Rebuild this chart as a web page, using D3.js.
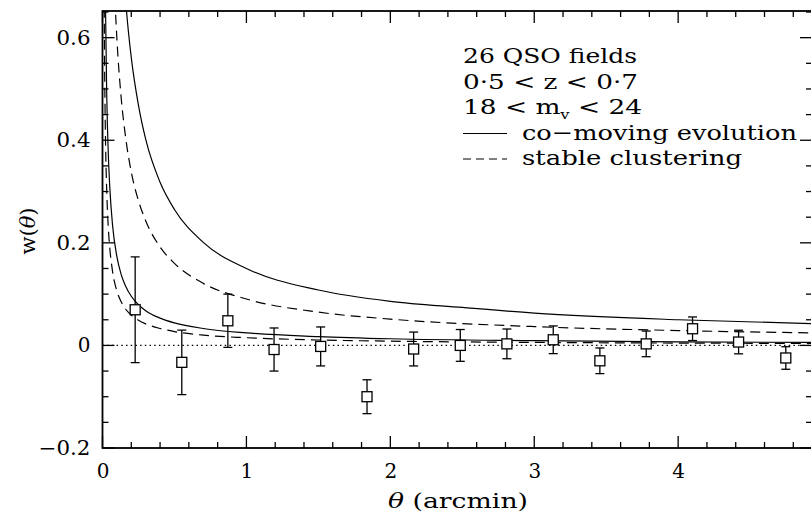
<!DOCTYPE html>
<html>
<head>
<meta charset="utf-8">
<script src="https://cdn.jsdelivr.net/npm/d3@7"></script>
<style>
  html, body { margin: 0; padding: 0; background: #fff; }
  svg { display: block; }
  text { font-family: "DejaVu Serif", "Liberation Serif", serif; fill: #000; }
</style>
</head>
<body>
<svg id="chart" width="811" height="517"></svg>
<script>
// Angular correlation measurements (binned in theta, arcmin)
const theta = [0.227, 0.551, 0.871, 1.192, 1.516, 1.838, 2.162, 2.486, 2.810, 3.132, 3.456, 3.778, 4.100, 4.420, 4.748];
const wTheta = [0.0695, -0.033, 0.048, -0.008, -0.002, -0.100, -0.007, 0.000, 0.003, 0.011, -0.030, 0.003, 0.0325, 0.0066, -0.0245];
const wErr = [0.103, 0.063, 0.052, 0.042, 0.038, 0.033, 0.033, 0.031, 0.029, 0.027, 0.025, 0.025, 0.023, 0.023, 0.022];

// Model predictions, [theta, w] pairs
const comovingHigh = [[0.12,0.854],[0.15,0.711],[0.18,0.612],[0.2,0.561],[0.25,0.468],[0.3,0.402],[0.4,0.318],[0.5,0.265],[0.7,0.201],[1.0,0.150],[1.5,0.108],[2,0.086],[2.5,0.074],[3,0.063],[4,0.050],[5,0.042]];
const stableHigh = [[0.07,0.801],[0.08,0.719],[0.09,0.653],[0.1,0.598],[0.13,0.482],[0.16,0.407],[0.2,0.338],[0.25,0.282],[0.3,0.243],[0.4,0.192],[0.5,0.160],[0.7,0.121],[1.0,0.0905],[1.5,0.0649],[2,0.0513],[3,0.0367],[4,0.029],[5,0.0242]];
const comovingLow = [[0.01,1.22],[0.015,0.866],[0.02,0.678],[0.03,0.481],[0.04,0.376],[0.05,0.312],[0.07,0.234],[0.1,0.173],[0.13,0.138],[0.16,0.116],[0.2,0.0959],[0.25,0.0793],[0.3,0.0678],[0.4,0.0532],[0.5,0.0439],[0.7,0.0330],[1.0,0.0244],[1.5,0.0173],[2,0.013],[3,0.0092],[4,0.0070],[5,0.0058]];
const stableLow = [[0.01,0.752],[0.015,0.533],[0.02,0.417],[0.03,0.296],[0.04,0.231],[0.05,0.192],[0.07,0.144],[0.1,0.106],[0.13,0.085],[0.16,0.071],[0.2,0.059],[0.25,0.049],[0.3,0.042],[0.4,0.033],[0.5,0.027],[0.7,0.020],[1.0,0.015],[1.5,0.0106],[2,0.0083],[3,0.0059],[4,0.0046],[5,0.0038]];

const xTicks = [0, 1, 2, 3, 4];
const yTicks = [-0.2, 0, 0.2, 0.4, 0.6];
const yTickLabels = ["\u22120.2", "0", "0.2", "0.4", "0.6"];

const legendLines = ["26 QSO fields", "0\u00b75 < z < 0\u00b77"];

const svg = d3.select("#chart");
const mLeft = 102.5, mRight = 812, mTop = 11, mBottom = 448;

const x = d3.scaleLinear().domain([0, 4.93]).range([mLeft, mRight]);
const y = d3.scaleLinear().domain([-0.2, 0.652]).range([mBottom, mTop]);

svg.append("defs").append("clipPath").attr("id", "plotclip")
  .append("rect").attr("x", mLeft).attr("y", mTop)
  .attr("width", mRight - mLeft).attr("height", mBottom - mTop);

const plot = svg.append("g").attr("clip-path", "url(#plotclip)");

// zero line
plot.append("line")
  .attr("x1", x(0)).attr("x2", x(4.93))
  .attr("y1", y(0)).attr("y2", y(0))
  .attr("stroke", "#000").attr("stroke-width", 1.2)
  .attr("stroke-dasharray", "1.5,3.2");

// model curves
const line = d3.line().x(d => x(d[0])).y(d => y(d[1])).curve(d3.curveMonotoneX);
const models = [
  { data: comovingHigh, dash: null },
  { data: comovingLow, dash: null },
  { data: stableHigh, dash: "10,6" },
  { data: stableLow, dash: "10,6" }
];
models.forEach(m => {
  plot.append("path").attr("d", line(m.data))
    .attr("fill", "none").attr("stroke", "#000").attr("stroke-width", 1.2)
    .attr("stroke-dasharray", m.dash);
});

// data points with error bars
const half = 5, cap = 4.5;
const pts = plot.append("g").attr("stroke", "#000").attr("stroke-width", 1.3).attr("fill", "none");
theta.forEach((t, i) => {
  const cx = x(t), cy = y(wTheta[i]);
  const yt = y(wTheta[i] + wErr[i]), yb = y(wTheta[i] - wErr[i]);
  if (yt < cy - half) pts.append("line").attr("x1", cx).attr("x2", cx).attr("y1", yt).attr("y2", cy - half);
  if (yb > cy + half) pts.append("line").attr("x1", cx).attr("x2", cx).attr("y1", cy + half).attr("y2", yb);
  pts.append("line").attr("x1", cx - cap).attr("x2", cx + cap).attr("y1", yt).attr("y2", yt);
  pts.append("line").attr("x1", cx - cap).attr("x2", cx + cap).attr("y1", yb).attr("y2", yb);
  pts.append("rect").attr("x", cx - half).attr("y", cy - half)
    .attr("width", 2 * half).attr("height", 2 * half).attr("fill", "#fff");
});

// frame and ticks (all four sides, inward)
const frame = svg.append("g").attr("stroke", "#000").attr("fill", "none");
frame.append("rect").attr("x", mLeft).attr("y", mTop)
  .attr("width", mRight - mLeft).attr("height", mBottom - mTop).attr("stroke-width", 1.8);

const xMinor = d3.range(0, 4.93, 0.2);
const yMinor = d3.range(-0.2, 0.652, 0.05);
xMinor.forEach(v => {
  const major = Math.abs(v - Math.round(v)) < 1e-6;
  const len = major ? 12 : 6;
  frame.append("line").attr("x1", x(v)).attr("x2", x(v)).attr("y1", mBottom).attr("y2", mBottom - len).attr("stroke-width", 1.3);
  frame.append("line").attr("x1", x(v)).attr("x2", x(v)).attr("y1", mTop).attr("y2", mTop + len).attr("stroke-width", 1.3);
});
yMinor.forEach(v => {
  const major = Math.abs(v * 5 - Math.round(v * 5)) < 1e-6;
  const len = major ? 12 : 6;
  frame.append("line").attr("y1", y(v)).attr("y2", y(v)).attr("x1", mLeft).attr("x2", mLeft + len).attr("stroke-width", 1.3);
  frame.append("line").attr("y1", y(v)).attr("y2", y(v)).attr("x1", mRight).attr("x2", mRight - len).attr("stroke-width", 1.3);
});

// tick labels via d3 axes (tick lines hidden, labels only)
const xAxis = d3.axisBottom(x).tickValues(xTicks).tickSize(0).tickPadding(16).tickFormat(d3.format("d"));
const gx = svg.append("g").attr("transform", `translate(0,${mBottom})`).call(xAxis);
gx.select(".domain").remove();
gx.selectAll("text").attr("font-family", "DejaVu Serif").attr("font-size", 20).attr("fill", "#000");

const yAxis = d3.axisLeft(y).tickValues(yTicks).tickSize(0).tickPadding(12)
  .tickFormat((d, i) => yTickLabels[i]);
const gy = svg.append("g").attr("transform", `translate(${mLeft},0)`).call(yAxis);
gy.select(".domain").remove();
gy.selectAll("text").attr("font-family", "DejaVu Serif").attr("font-size", 20).attr("fill", "#000")
  .each(function (d, i) {
    const s = yTickLabels[i];
    if (s.length > 1) d3.select(this).attr("textLength", s.length === 3 ? 34 : 52).attr("lengthAdjust", "spacingAndGlyphs");
  });

// axis titles
svg.append("text").attr("x", 388).attr("y", 508).attr("font-size", 21)
  .attr("textLength", 140).attr("lengthAdjust", "spacingAndGlyphs")
  .html('<tspan font-style="italic">\u03b8</tspan> (arcmin)');
svg.append("text").attr("transform", "translate(35,231) rotate(-90)")
  .attr("text-anchor", "middle").attr("font-size", 21)
  .html('w(<tspan font-style="italic">\u03b8</tspan>)');

// legend block
const lx = 463, ly0 = 63, dy = 25.5;
const lineWidths = [174, 175];
legendLines.forEach((s, i) => {
  svg.append("text").attr("x", lx).attr("y", ly0 + i * dy).attr("font-size", 21)
    .attr("textLength", lineWidths[i]).attr("lengthAdjust", "spacingAndGlyphs").text(s);
});
svg.append("text").attr("x", lx).attr("y", ly0 + 2 * dy).attr("font-size", 21)
  .attr("textLength", 179).attr("lengthAdjust", "spacingAndGlyphs")
  .html('18 &lt; m<tspan font-size="13" dy="5">v</tspan><tspan dy="-5"> &lt; 24</tspan>');

const legendItems = [
  { label: "co\u2212moving evolution", dash: null, width: 275 },
  { label: "stable clustering", dash: "8,5", width: 220 }
];
legendItems.forEach((it, i) => {
  const yy = ly0 + (3 + i) * dy;
  svg.append("line").attr("x1", lx).attr("x2", lx + 44).attr("y1", yy - 6).attr("y2", yy - 6)
    .attr("stroke", "#000").attr("stroke-width", 1.2).attr("stroke-dasharray", it.dash);
  svg.append("text").attr("x", lx + 59).attr("y", yy).attr("font-size", 21)
    .attr("textLength", it.width).attr("lengthAdjust", "spacingAndGlyphs").text(it.label);
});
</script>
</body>
</html>
